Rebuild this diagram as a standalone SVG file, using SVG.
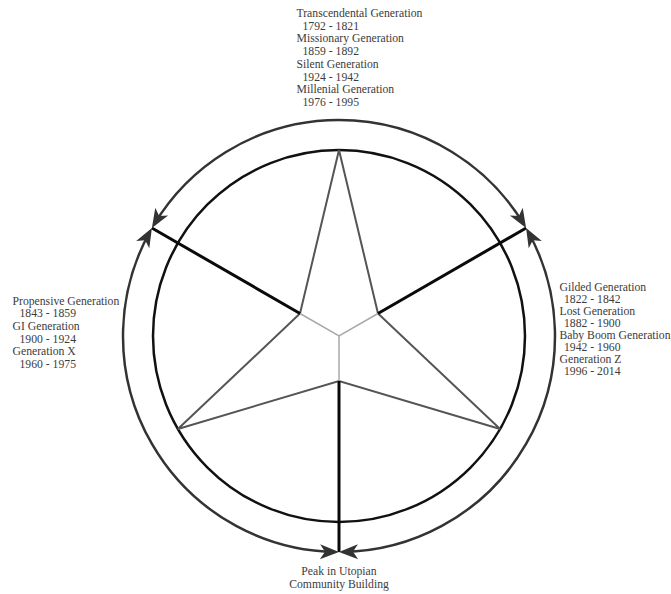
<svg xmlns="http://www.w3.org/2000/svg" width="671" height="594" viewBox="0 0 671 594">
<style>
  .lbl { font-family: "Liberation Serif", "Times New Roman", serif; font-size: 11.7px; fill: #3c3c3c; }
  .ring { fill: none; stroke: #111; stroke-width: 2.5; }
  .star { fill: none; stroke: #555; stroke-width: 2; stroke-linejoin: miter; }
  .hub { fill: none; stroke: #a8a8a8; stroke-width: 1.5; }
  .spoke { stroke: #0a0a0a; stroke-width: 3; }
  .arc { fill: none; stroke: #333; stroke-width: 2.5; marker-start: url(#ah-start); marker-end: url(#ah); }
</style>
<defs>
  <marker id="ah" viewBox="-24 -10 26 20" markerUnits="userSpaceOnUse" markerWidth="26" markerHeight="20" refX="-4" refY="0" orient="auto">
    <path d="M0,0 L-19,-7.5 L-14,0 L-19,7.5 Z" fill="#333"/>
  </marker>
  <marker id="ah-start" viewBox="-24 -10 26 20" markerUnits="userSpaceOnUse" markerWidth="26" markerHeight="20" refX="-4" refY="0" orient="auto-start-reverse">
    <path d="M0,0 L-19,-7.5 L-14,0 L-19,7.5 Z" fill="#333"/>
  </marker>
</defs>
<rect width="671" height="594" fill="#fff"/>

<g id="wheel">
  <circle class="ring" cx="339" cy="336" r="186"/>
  <polygon class="star" points="339,150 378,313.5 500.1,429 339,381 177.9,429 300,313.5"/>
  <polyline class="hub" points="300,313.5 339,336 378,313.5"/>
  <line class="hub" x1="339" y1="336" x2="339" y2="381"/>
  <line class="spoke" x1="300" y1="313.5" x2="151.9" y2="228"/>
  <line class="spoke" x1="378" y1="313.5" x2="526.1" y2="228"/>
  <line class="spoke" x1="339" y1="381" x2="339" y2="552"/>
</g>

<g id="connectors">
  <path class="arc" d="M153.97,224.57 A216,216 0 0 1 524.03,224.57"/>
  <path class="arc" d="M528.02,231.48 A216,216 0 0 1 343.0,551.96"/>
  <path class="arc" d="M335.0,551.96 A216,216 0 0 1 149.98,231.48"/>
</g>

<g id="top-label">
  <text class="lbl" x="296.5" y="17">Transcendental Generation</text>
  <text class="lbl" x="302.5" y="29.7">1792 - 1821</text>
  <text class="lbl" x="296.5" y="42.4">Missionary Generation</text>
  <text class="lbl" x="302.5" y="55.1">1859 - 1892</text>
  <text class="lbl" x="296.5" y="67.8">Silent Generation</text>
  <text class="lbl" x="302.5" y="80.5">1924 - 1942</text>
  <text class="lbl" x="296.5" y="93.2">Millenial Generation</text>
  <text class="lbl" x="302.5" y="105.9">1976 - 1995</text>
</g>

<g id="left-label">
  <text class="lbl" x="12.5" y="304.5">Propensive Generation</text>
  <text class="lbl" x="19.5" y="317.2">1843 - 1859</text>
  <text class="lbl" x="12.5" y="329.9">GI Generation</text>
  <text class="lbl" x="19.5" y="342.6">1900 - 1924</text>
  <text class="lbl" x="12.5" y="355.3">Generation X</text>
  <text class="lbl" x="19.5" y="368">1960 - 1975</text>
</g>

<g id="right-label">
  <text class="lbl" x="559.5" y="290.5">Gilded Generation</text>
  <text class="lbl" x="564" y="302.5">1822 - 1842</text>
  <text class="lbl" x="559.5" y="314.5">Lost Generation</text>
  <text class="lbl" x="564" y="326.5">1882 - 1900</text>
  <text class="lbl" x="559.5" y="338.5">Baby Boom Generation</text>
  <text class="lbl" x="564" y="350.5">1942 - 1960</text>
  <text class="lbl" x="559.5" y="362.5">Generation Z</text>
  <text class="lbl" x="564" y="374.5">1996 - 2014</text>
</g>

<g id="bottom-label">
  <text class="lbl" x="339" y="575" text-anchor="middle">Peak in Utopian</text>
  <text class="lbl" x="339" y="587.5" text-anchor="middle">Community Building</text>
</g>
</svg>
